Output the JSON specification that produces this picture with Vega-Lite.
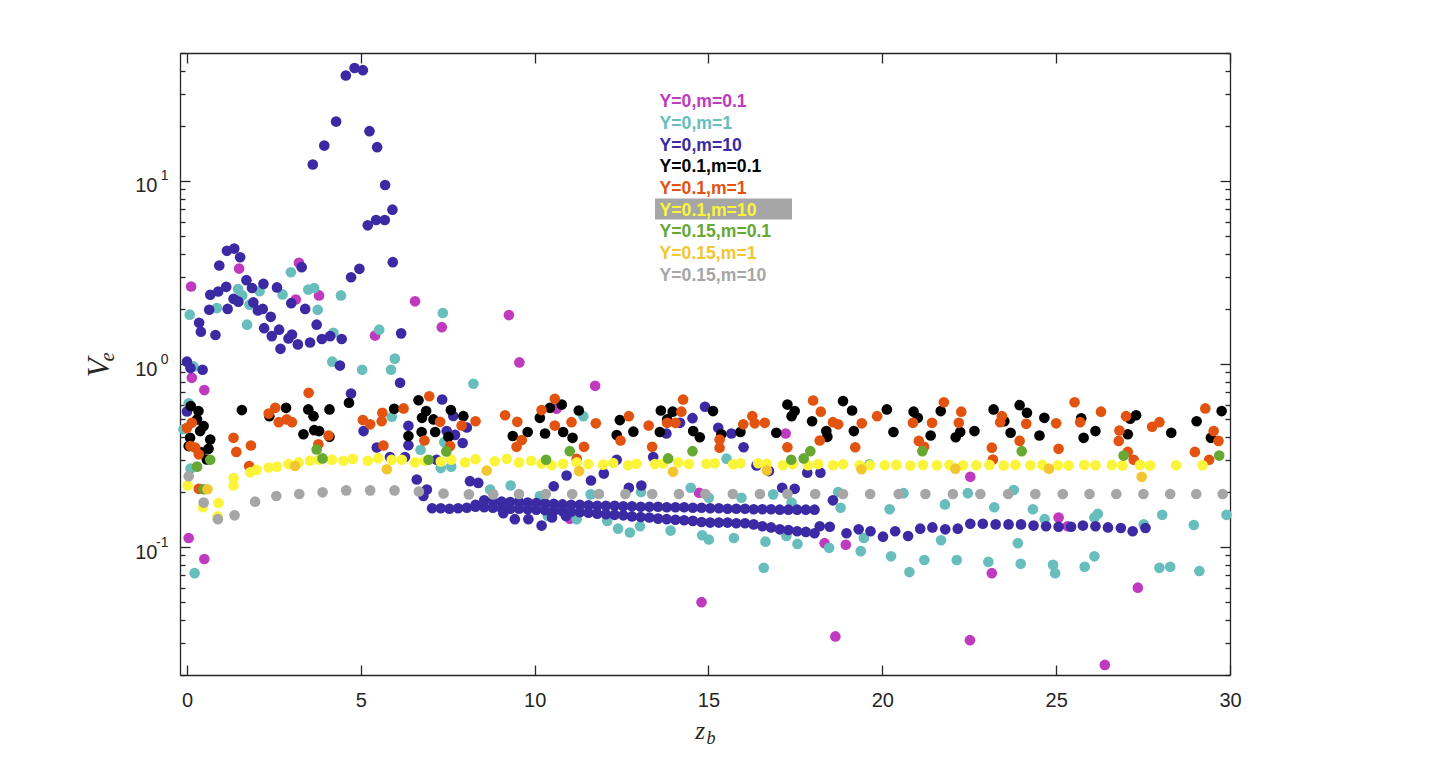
{
"$schema": "https://vega.github.io/schema/vega-lite/v6.json",
"width": 1050,
"height": 622,
"autosize": {"type": "none"},
"padding": {"left": 180, "top": 53, "right": 210, "bottom": 94},
"background": "white",
"config": {"view": {"stroke": null}, "font": "Liberation Sans", "axis": {"grid": false, "domainColor": "#262626", "domainWidth": 1.3, "tickColor": "#262626", "tickWidth": 1.3, "labelColor": "#262626", "labelFont": "Liberation Sans", "titleColor": "#262626", "titleFont": "Liberation Serif", "titleFontStyle": "italic", "titleFontWeight": "normal"}},
"data": {"values": [
{"s":"Y=0,m=0.1","x":0.12,"y":2.65},{"s":"Y=0,m=0.1","x":3.22,"y":3.57},{"s":"Y=0,m=0.1","x":1.5,"y":3.32},{"s":"Y=0,m=0.1","x":3.13,"y":2.25},{"s":"Y=0,m=0.1","x":3.8,"y":2.37},{"s":"Y=0,m=0.1","x":5.41,"y":1.43},{"s":"Y=0,m=0.1","x":6.56,"y":2.2},{"s":"Y=0,m=0.1","x":7.33,"y":1.59},{"s":"Y=0,m=0.1","x":0.14,"y":0.84},{"s":"Y=0,m=0.1","x":0.5,"y":0.72},{"s":"Y=0,m=0.1","x":0.05,"y":0.112},{"s":"Y=0,m=0.1","x":0.5,"y":0.086},{"s":"Y=0,m=0.1","x":9.26,"y":1.85},{"s":"Y=0,m=0.1","x":9.56,"y":1.02},{"s":"Y=0,m=0.1","x":11.74,"y":0.76},{"s":"Y=0,m=0.1","x":14.73,"y":0.198},{"s":"Y=0,m=0.1","x":11.01,"y":0.143},{"s":"Y=0,m=0.1","x":17.22,"y":0.417},{"s":"Y=0,m=0.1","x":14.8,"y":0.05},{"s":"Y=0,m=0.1","x":18.34,"y":0.105},{"s":"Y=0,m=0.1","x":18.95,"y":0.103},{"s":"Y=0,m=0.1","x":18.65,"y":0.0325},{"s":"Y=0,m=0.1","x":10.63,"y":0.57},{"s":"Y=0,m=0.1","x":22.53,"y":0.242},{"s":"Y=0,m=0.1","x":25.07,"y":0.145},{"s":"Y=0,m=0.1","x":25.33,"y":0.13},{"s":"Y=0,m=0.1","x":23.15,"y":0.072},{"s":"Y=0,m=0.1","x":27.35,"y":0.06},{"s":"Y=0,m=0.1","x":22.52,"y":0.031},{"s":"Y=0,m=0.1","x":26.4,"y":0.0227},
{"s":"Y=0,m=1","x":0.08,"y":1.86},{"s":"Y=0,m=1","x":0.86,"y":2.02},{"s":"Y=0,m=1","x":1.47,"y":2.57},{"s":"Y=0,m=1","x":1.59,"y":2.37},{"s":"Y=0,m=1","x":1.8,"y":2.11},{"s":"Y=0,m=1","x":2.09,"y":2.5},{"s":"Y=0,m=1","x":1.73,"y":1.64},{"s":"Y=0,m=1","x":2.99,"y":3.17},{"s":"Y=0,m=1","x":2.75,"y":2.4},{"s":"Y=0,m=1","x":3.49,"y":2.55},{"s":"Y=0,m=1","x":3.66,"y":2.6},{"s":"Y=0,m=1","x":3.76,"y":1.98},{"s":"Y=0,m=1","x":4.43,"y":2.37},{"s":"Y=0,m=1","x":4.21,"y":1.48},{"s":"Y=0,m=1","x":4.18,"y":1.03},{"s":"Y=0,m=1","x":5.04,"y":0.93},{"s":"Y=0,m=1","x":5.53,"y":1.54},{"s":"Y=0,m=1","x":5.87,"y":0.93},{"s":"Y=0,m=1","x":5.98,"y":1.07},{"s":"Y=0,m=1","x":7.36,"y":1.9},{"s":"Y=0,m=1","x":0.19,"y":0.97},{"s":"Y=0,m=1","x":0.05,"y":0.61},{"s":"Y=0,m=1","x":-0.1,"y":0.44},{"s":"Y=0,m=1","x":0.1,"y":0.268},{"s":"Y=0,m=1","x":0.22,"y":0.072},{"s":"Y=0,m=1","x":5.89,"y":0.515},{"s":"Y=0,m=1","x":6.72,"y":0.34},{"s":"Y=0,m=1","x":7.3,"y":0.27},{"s":"Y=0,m=1","x":7.6,"y":0.275},{"s":"Y=0,m=1","x":7.4,"y":0.374},{"s":"Y=0,m=1","x":8.24,"y":0.78},{"s":"Y=0,m=1","x":8.72,"y":0.206},{"s":"Y=0,m=1","x":9.31,"y":0.217},{"s":"Y=0,m=1","x":10.15,"y":0.19},{"s":"Y=0,m=1","x":10.38,"y":0.148},{"s":"Y=0,m=1","x":11.4,"y":0.519},{"s":"Y=0,m=1","x":15.52,"y":0.304},{"s":"Y=0,m=1","x":19.63,"y":0.283},{"s":"Y=0,m=1","x":10.49,"y":0.146},{"s":"Y=0,m=1","x":11.21,"y":0.142},{"s":"Y=0,m=1","x":11.61,"y":0.194},{"s":"Y=0,m=1","x":12.09,"y":0.139},{"s":"Y=0,m=1","x":12.4,"y":0.126},{"s":"Y=0,m=1","x":12.74,"y":0.12},{"s":"Y=0,m=1","x":13.03,"y":0.13},{"s":"Y=0,m=1","x":13.06,"y":0.2},{"s":"Y=0,m=1","x":13.91,"y":0.123},{"s":"Y=0,m=1","x":14.49,"y":0.211},{"s":"Y=0,m=1","x":15.01,"y":0.186},{"s":"Y=0,m=1","x":14.82,"y":0.116},{"s":"Y=0,m=1","x":15.01,"y":0.11},{"s":"Y=0,m=1","x":15.73,"y":0.112},{"s":"Y=0,m=1","x":15.95,"y":0.186},{"s":"Y=0,m=1","x":16.64,"y":0.107},{"s":"Y=0,m=1","x":16.59,"y":0.077},{"s":"Y=0,m=1","x":16.86,"y":0.194},{"s":"Y=0,m=1","x":17.39,"y":0.175},{"s":"Y=0,m=1","x":17.24,"y":0.115},{"s":"Y=0,m=1","x":17.56,"y":0.104},{"s":"Y=0,m=1","x":18.47,"y":0.099},{"s":"Y=0,m=1","x":18.73,"y":0.2},{"s":"Y=0,m=1","x":18.8,"y":0.164},{"s":"Y=0,m=1","x":19.38,"y":0.095},{"s":"Y=0,m=1","x":19.47,"y":0.112},{"s":"Y=0,m=1","x":20.21,"y":0.161},{"s":"Y=0,m=1","x":20.25,"y":0.089},{"s":"Y=0,m=1","x":20.61,"y":0.197},{"s":"Y=0,m=1","x":20.78,"y":0.073},{"s":"Y=0,m=1","x":21.21,"y":0.085},{"s":"Y=0,m=1","x":21.69,"y":0.109},{"s":"Y=0,m=1","x":21.8,"y":0.171},{"s":"Y=0,m=1","x":22.14,"y":0.085},{"s":"Y=0,m=1","x":22.46,"y":0.197},{"s":"Y=0,m=1","x":23.05,"y":0.083},{"s":"Y=0,m=1","x":23.22,"y":0.165},{"s":"Y=0,m=1","x":23.78,"y":0.205},{"s":"Y=0,m=1","x":23.9,"y":0.105},{"s":"Y=0,m=1","x":23.98,"y":0.081},{"s":"Y=0,m=1","x":24.33,"y":0.161},{"s":"Y=0,m=1","x":24.67,"y":0.142},{"s":"Y=0,m=1","x":24.91,"y":0.08},{"s":"Y=0,m=1","x":24.97,"y":0.072},{"s":"Y=0,m=1","x":25.82,"y":0.078},{"s":"Y=0,m=1","x":26.1,"y":0.089},{"s":"Y=0,m=1","x":26.1,"y":0.145},{"s":"Y=0,m=1","x":26.2,"y":0.152},{"s":"Y=0,m=1","x":27.52,"y":0.133},{"s":"Y=0,m=1","x":27.97,"y":0.077},{"s":"Y=0,m=1","x":28.28,"y":0.078},{"s":"Y=0,m=1","x":28.05,"y":0.15},{"s":"Y=0,m=1","x":28.96,"y":0.132},{"s":"Y=0,m=1","x":29.12,"y":0.074},{"s":"Y=0,m=1","x":29.9,"y":0.15},
{"s":"Y=0,m=10","x":4.57,"y":37.7},{"s":"Y=0,m=10","x":4.82,"y":41.4},{"s":"Y=0,m=10","x":5.06,"y":40.3},{"s":"Y=0,m=10","x":4.29,"y":21.1},{"s":"Y=0,m=10","x":3.95,"y":15.6},{"s":"Y=0,m=10","x":3.62,"y":12.3},{"s":"Y=0,m=10","x":5.25,"y":18.7},{"s":"Y=0,m=10","x":5.47,"y":15.3},{"s":"Y=0,m=10","x":5.7,"y":9.5},{"s":"Y=0,m=10","x":5.91,"y":6.97},{"s":"Y=0,m=10","x":5.69,"y":6.12},{"s":"Y=0,m=10","x":5.44,"y":6.12},{"s":"Y=0,m=10","x":5.2,"y":5.72},{"s":"Y=0,m=10","x":5.92,"y":3.6},{"s":"Y=0,m=10","x":4.96,"y":3.31},{"s":"Y=0,m=10","x":4.72,"y":2.98},{"s":"Y=0,m=10","x":3.3,"y":3.38},{"s":"Y=0,m=10","x":1.36,"y":4.27},{"s":"Y=0,m=10","x":1.15,"y":4.15},{"s":"Y=0,m=10","x":1.53,"y":3.83},{"s":"Y=0,m=10","x":0.93,"y":3.45},{"s":"Y=0,m=10","x":1.71,"y":2.87},{"s":"Y=0,m=10","x":1.87,"y":2.6},{"s":"Y=0,m=10","x":2.2,"y":2.74},{"s":"Y=0,m=10","x":2.59,"y":2.62},{"s":"Y=0,m=10","x":1.13,"y":2.64},{"s":"Y=0,m=10","x":0.9,"y":2.49},{"s":"Y=0,m=10","x":0.67,"y":2.39},{"s":"Y=0,m=10","x":1.34,"y":2.27},{"s":"Y=0,m=10","x":1.48,"y":2.19},{"s":"Y=0,m=10","x":1.91,"y":2.17},{"s":"Y=0,m=10","x":3.0,"y":2.15},{"s":"Y=0,m=10","x":0.64,"y":1.98},{"s":"Y=0,m=10","x":1.17,"y":2.0},{"s":"Y=0,m=10","x":2.04,"y":1.96},{"s":"Y=0,m=10","x":2.18,"y":2.0},{"s":"Y=0,m=10","x":3.4,"y":2.0},{"s":"Y=0,m=10","x":2.41,"y":1.81},{"s":"Y=0,m=10","x":3.73,"y":1.64},{"s":"Y=0,m=10","x":0.35,"y":1.68},{"s":"Y=0,m=10","x":0.4,"y":1.5},{"s":"Y=0,m=10","x":0.82,"y":1.44},{"s":"Y=0,m=10","x":2.22,"y":1.57},{"s":"Y=0,m=10","x":2.65,"y":1.54},{"s":"Y=0,m=10","x":2.44,"y":1.42},{"s":"Y=0,m=10","x":2.92,"y":1.38},{"s":"Y=0,m=10","x":3.02,"y":1.45},{"s":"Y=0,m=10","x":3.19,"y":1.28},{"s":"Y=0,m=10","x":2.69,"y":1.21},{"s":"Y=0,m=10","x":3.54,"y":1.31},{"s":"Y=0,m=10","x":3.88,"y":1.37},{"s":"Y=0,m=10","x":4.12,"y":1.42},{"s":"Y=0,m=10","x":4.45,"y":1.37},{"s":"Y=0,m=10","x":6.16,"y":1.47},{"s":"Y=0,m=10","x":0.0,"y":1.03},{"s":"Y=0,m=10","x":0.45,"y":0.93},{"s":"Y=0,m=10","x":4.4,"y":0.98},{"s":"Y=0,m=10","x":4.72,"y":0.69},{"s":"Y=0,m=10","x":6.13,"y":0.79},{"s":"Y=0,m=10","x":5.08,"y":0.43},{"s":"Y=0,m=10","x":6.37,"y":0.46},{"s":"Y=0,m=10","x":6.37,"y":0.36},{"s":"Y=0,m=10","x":5.46,"y":0.35},{"s":"Y=0,m=10","x":5.84,"y":0.31},{"s":"Y=0,m=10","x":6.27,"y":0.31},{"s":"Y=0,m=10","x":7.18,"y":0.3},{"s":"Y=0,m=10","x":7.34,"y":0.64},{"s":"Y=0,m=10","x":7.66,"y":0.52},{"s":"Y=0,m=10","x":7.71,"y":0.41},{"s":"Y=0,m=10","x":7.93,"y":0.37},{"s":"Y=0,m=10","x":8.05,"y":0.45},{"s":"Y=0,m=10","x":7.47,"y":0.43},{"s":"Y=0,m=10","x":6.61,"y":0.234},{"s":"Y=0,m=10","x":6.9,"y":0.206},{"s":"Y=0,m=10","x":6.8,"y":0.19},{"s":"Y=0,m=10","x":0.0,"y":0.55},{"s":"Y=0,m=10","x":0.1,"y":0.95},
{"s":"Y=0,m=10","x":8.14,"y":0.229},{"s":"Y=0,m=10","x":8.38,"y":0.224},{"s":"Y=0,m=10","x":9.1,"y":0.153},{"s":"Y=0,m=10","x":9.43,"y":0.142},{"s":"Y=0,m=10","x":9.82,"y":0.142},{"s":"Y=0,m=10","x":10.2,"y":0.131},{"s":"Y=0,m=10","x":10.5,"y":0.145},{"s":"Y=0,m=10","x":10.9,"y":0.148},{"s":"Y=0,m=10","x":10.92,"y":0.246},{"s":"Y=0,m=10","x":11.62,"y":0.231},{"s":"Y=0,m=10","x":11.99,"y":0.252},{"s":"Y=0,m=10","x":10.55,"y":0.215},{"s":"Y=0,m=10","x":12.36,"y":0.3},{"s":"Y=0,m=10","x":12.71,"y":0.211},{"s":"Y=0,m=10","x":13.07,"y":0.217},{"s":"Y=0,m=10","x":13.41,"y":0.31},{"s":"Y=0,m=10","x":13.79,"y":0.417},{"s":"Y=0,m=10","x":14.18,"y":0.477},{"s":"Y=0,m=10","x":14.54,"y":0.506},{"s":"Y=0,m=10","x":14.9,"y":0.584},{"s":"Y=0,m=10","x":15.28,"y":0.448},{"s":"Y=0,m=10","x":15.66,"y":0.417},{"s":"Y=0,m=10","x":16.01,"y":0.351},{"s":"Y=0,m=10","x":16.38,"y":0.279},{"s":"Y=0,m=10","x":16.74,"y":0.26},{"s":"Y=0,m=10","x":17.12,"y":0.211},{"s":"Y=0,m=10","x":17.48,"y":0.208},{"s":"Y=0,m=10","x":17.84,"y":0.255},{"s":"Y=0,m=10","x":18.22,"y":0.255},{"s":"Y=0,m=10","x":18.58,"y":0.18},
{"s":"Y=0,m=10","x":7.05,"y":0.163},{"s":"Y=0,m=10","x":7.3,"y":0.163},{"s":"Y=0,m=10","x":7.55,"y":0.162},{"s":"Y=0,m=10","x":7.8,"y":0.163},{"s":"Y=0,m=10","x":8.05,"y":0.164},{"s":"Y=0,m=10","x":8.3,"y":0.17},{"s":"Y=0,m=10","x":8.55,"y":0.18},{"s":"Y=0,m=10","x":8.8,"y":0.178},{"s":"Y=0,m=10","x":9.05,"y":0.177},{"s":"Y=0,m=10","x":9.3,"y":0.176},{"s":"Y=0,m=10","x":9.55,"y":0.176},{"s":"Y=0,m=10","x":9.8,"y":0.175},{"s":"Y=0,m=10","x":10.05,"y":0.174},{"s":"Y=0,m=10","x":10.3,"y":0.173},{"s":"Y=0,m=10","x":10.55,"y":0.172},{"s":"Y=0,m=10","x":10.8,"y":0.171},{"s":"Y=0,m=10","x":11.05,"y":0.17},{"s":"Y=0,m=10","x":11.3,"y":0.17},{"s":"Y=0,m=10","x":11.55,"y":0.169},{"s":"Y=0,m=10","x":11.8,"y":0.168},{"s":"Y=0,m=10","x":12.05,"y":0.168},{"s":"Y=0,m=10","x":12.3,"y":0.168},{"s":"Y=0,m=10","x":12.55,"y":0.167},{"s":"Y=0,m=10","x":12.8,"y":0.167},{"s":"Y=0,m=10","x":13.05,"y":0.166},{"s":"Y=0,m=10","x":13.3,"y":0.166},{"s":"Y=0,m=10","x":13.55,"y":0.166},{"s":"Y=0,m=10","x":13.8,"y":0.165},{"s":"Y=0,m=10","x":14.05,"y":0.165},{"s":"Y=0,m=10","x":14.3,"y":0.165},{"s":"Y=0,m=10","x":14.55,"y":0.164},{"s":"Y=0,m=10","x":14.8,"y":0.164},{"s":"Y=0,m=10","x":15.05,"y":0.163},{"s":"Y=0,m=10","x":15.3,"y":0.163},{"s":"Y=0,m=10","x":15.55,"y":0.162},{"s":"Y=0,m=10","x":15.8,"y":0.162},{"s":"Y=0,m=10","x":16.05,"y":0.162},{"s":"Y=0,m=10","x":16.3,"y":0.161},{"s":"Y=0,m=10","x":16.55,"y":0.161},{"s":"Y=0,m=10","x":16.8,"y":0.161},{"s":"Y=0,m=10","x":17.05,"y":0.16},{"s":"Y=0,m=10","x":17.3,"y":0.16},{"s":"Y=0,m=10","x":17.55,"y":0.16},{"s":"Y=0,m=10","x":17.8,"y":0.16},{"s":"Y=0,m=10","x":18.05,"y":0.16},
{"s":"Y=0,m=10","x":8.3,"y":0.166},{"s":"Y=0,m=10","x":8.55,"y":0.165},{"s":"Y=0,m=10","x":8.8,"y":0.164},{"s":"Y=0,m=10","x":9.05,"y":0.163},{"s":"Y=0,m=10","x":9.3,"y":0.162},{"s":"Y=0,m=10","x":9.55,"y":0.162},{"s":"Y=0,m=10","x":9.8,"y":0.161},{"s":"Y=0,m=10","x":10.05,"y":0.16},{"s":"Y=0,m=10","x":10.3,"y":0.159},{"s":"Y=0,m=10","x":10.55,"y":0.158},{"s":"Y=0,m=10","x":10.8,"y":0.157},{"s":"Y=0,m=10","x":11.05,"y":0.156},{"s":"Y=0,m=10","x":11.3,"y":0.155},{"s":"Y=0,m=10","x":11.55,"y":0.154},{"s":"Y=0,m=10","x":11.8,"y":0.152},{"s":"Y=0,m=10","x":12.05,"y":0.151},{"s":"Y=0,m=10","x":12.3,"y":0.15},{"s":"Y=0,m=10","x":12.55,"y":0.149},{"s":"Y=0,m=10","x":12.8,"y":0.147},{"s":"Y=0,m=10","x":13.05,"y":0.146},{"s":"Y=0,m=10","x":13.3,"y":0.145},{"s":"Y=0,m=10","x":13.55,"y":0.143},{"s":"Y=0,m=10","x":13.8,"y":0.142},{"s":"Y=0,m=10","x":14.05,"y":0.141},{"s":"Y=0,m=10","x":14.3,"y":0.14},{"s":"Y=0,m=10","x":14.55,"y":0.139},{"s":"Y=0,m=10","x":14.8,"y":0.137},{"s":"Y=0,m=10","x":15.05,"y":0.136},{"s":"Y=0,m=10","x":15.3,"y":0.136},{"s":"Y=0,m=10","x":15.55,"y":0.136},{"s":"Y=0,m=10","x":15.8,"y":0.135},{"s":"Y=0,m=10","x":16.05,"y":0.135},{"s":"Y=0,m=10","x":16.3,"y":0.133},{"s":"Y=0,m=10","x":16.55,"y":0.13},{"s":"Y=0,m=10","x":16.8,"y":0.128},{"s":"Y=0,m=10","x":17.05,"y":0.125},{"s":"Y=0,m=10","x":17.3,"y":0.124},{"s":"Y=0,m=10","x":17.55,"y":0.122},{"s":"Y=0,m=10","x":17.8,"y":0.121},{"s":"Y=0,m=10","x":18.05,"y":0.119},
{"s":"Y=0,m=10","x":18.2,"y":0.13},{"s":"Y=0,m=10","x":18.49,"y":0.129},{"s":"Y=0,m=10","x":18.97,"y":0.119},{"s":"Y=0,m=10","x":19.32,"y":0.125},{"s":"Y=0,m=10","x":19.66,"y":0.122},{"s":"Y=0,m=10","x":20.02,"y":0.114},{"s":"Y=0,m=10","x":20.37,"y":0.122},{"s":"Y=0,m=10","x":20.74,"y":0.115},{"s":"Y=0,m=10","x":21.09,"y":0.126},{"s":"Y=0,m=10","x":21.44,"y":0.128},{"s":"Y=0,m=10","x":21.81,"y":0.125},{"s":"Y=0,m=10","x":22.17,"y":0.126},{"s":"Y=0,m=10","x":22.53,"y":0.134},{"s":"Y=0,m=10","x":22.89,"y":0.134},{"s":"Y=0,m=10","x":23.26,"y":0.133},{"s":"Y=0,m=10","x":23.63,"y":0.133},{"s":"Y=0,m=10","x":23.99,"y":0.133},{"s":"Y=0,m=10","x":24.35,"y":0.131},{"s":"Y=0,m=10","x":24.71,"y":0.13},{"s":"Y=0,m=10","x":25.07,"y":0.129},{"s":"Y=0,m=10","x":25.43,"y":0.129},{"s":"Y=0,m=10","x":25.77,"y":0.131},{"s":"Y=0,m=10","x":26.13,"y":0.13},{"s":"Y=0,m=10","x":26.49,"y":0.128},{"s":"Y=0,m=10","x":26.86,"y":0.127},{"s":"Y=0,m=10","x":27.2,"y":0.122},{"s":"Y=0,m=10","x":27.57,"y":0.127},
{"s":"Y=0.1,m=0.1","x":0.11,"y":0.59},{"s":"Y=0.1,m=0.1","x":0.33,"y":0.553},{"s":"Y=0.1,m=0.1","x":0.29,"y":0.498},{"s":"Y=0.1,m=0.1","x":0.48,"y":0.458},{"s":"Y=0.1,m=0.1","x":0.38,"y":0.43},{"s":"Y=0.1,m=0.1","x":0.67,"y":0.387},{"s":"Y=0.1,m=0.1","x":0.09,"y":0.395},{"s":"Y=0.1,m=0.1","x":0.62,"y":0.344},{"s":"Y=0.1,m=0.1","x":0.57,"y":0.301},{"s":"Y=0.1,m=0.1","x":0.05,"y":0.356},{"s":"Y=0.1,m=0.1","x":0.4,"y":0.33},{"s":"Y=0.1,m=0.1","x":1.58,"y":0.56},{"s":"Y=0.1,m=0.1","x":2.37,"y":0.519},{"s":"Y=0.1,m=0.1","x":2.85,"y":0.576},{"s":"Y=0.1,m=0.1","x":3.49,"y":0.565},{"s":"Y=0.1,m=0.1","x":3.64,"y":0.519},{"s":"Y=0.1,m=0.1","x":4.1,"y":0.565},{"s":"Y=0.1,m=0.1","x":3.35,"y":0.413},{"s":"Y=0.1,m=0.1","x":3.66,"y":0.435},{"s":"Y=0.1,m=0.1","x":3.8,"y":0.43},{"s":"Y=0.1,m=0.1","x":4.1,"y":0.4},{"s":"Y=0.1,m=0.1","x":4.66,"y":0.614},{"s":"Y=0.1,m=0.1","x":5.96,"y":0.569},{"s":"Y=0.1,m=0.1","x":6.66,"y":0.634},{"s":"Y=0.1,m=0.1","x":6.88,"y":0.553},{"s":"Y=0.1,m=0.1","x":6.76,"y":0.508},{"s":"Y=0.1,m=0.1","x":7.09,"y":0.498},{"s":"Y=0.1,m=0.1","x":6.37,"y":0.404},{"s":"Y=0.1,m=0.1","x":6.75,"y":0.425},{"s":"Y=0.1,m=0.1","x":7.14,"y":0.425},{"s":"Y=0.1,m=0.1","x":7.52,"y":0.4},{"s":"Y=0.1,m=0.1","x":7.59,"y":0.56},{"s":"Y=0.1,m=0.1","x":7.95,"y":0.519},{"s":"Y=0.1,m=0.1","x":9.37,"y":0.404},{"s":"Y=0.1,m=0.1","x":9.8,"y":0.425},{"s":"Y=0.1,m=0.1","x":10.15,"y":0.508},{"s":"Y=0.1,m=0.1","x":10.3,"y":0.417},{"s":"Y=0.1,m=0.1","x":10.44,"y":0.576},{"s":"Y=0.1,m=0.1","x":10.78,"y":0.6},{"s":"Y=0.1,m=0.1","x":10.82,"y":0.425},{"s":"Y=0.1,m=0.1","x":11.09,"y":0.395},{"s":"Y=0.1,m=0.1","x":11.27,"y":0.557},{"s":"Y=0.1,m=0.1","x":12.45,"y":0.494},{"s":"Y=0.1,m=0.1","x":12.36,"y":0.409},{"s":"Y=0.1,m=0.1","x":12.84,"y":0.427},{"s":"Y=0.1,m=0.1","x":13.63,"y":0.557},{"s":"Y=0.1,m=0.1","x":13.97,"y":0.549},{"s":"Y=0.1,m=0.1","x":13.81,"y":0.498},{"s":"Y=0.1,m=0.1","x":13.6,"y":0.425},{"s":"Y=0.1,m=0.1","x":14.56,"y":0.43},{"s":"Y=0.1,m=0.1","x":14.75,"y":0.398},{"s":"Y=0.1,m=0.1","x":15.13,"y":0.553},{"s":"Y=0.1,m=0.1","x":15.37,"y":0.413},{"s":"Y=0.1,m=0.1","x":15.92,"y":0.425},{"s":"Y=0.1,m=0.1","x":16.95,"y":0.421},{"s":"Y=0.1,m=0.1","x":17.27,"y":0.6},{"s":"Y=0.1,m=0.1","x":17.48,"y":0.553},{"s":"Y=0.1,m=0.1","x":17.39,"y":0.519},{"s":"Y=0.1,m=0.1","x":17.98,"y":0.487},{"s":"Y=0.1,m=0.1","x":18.39,"y":0.43},{"s":"Y=0.1,m=0.1","x":18.42,"y":0.4},{"s":"Y=0.1,m=0.1","x":18.87,"y":0.627},{"s":"Y=0.1,m=0.1","x":19.13,"y":0.557},{"s":"Y=0.1,m=0.1","x":19.18,"y":0.43},{"s":"Y=0.1,m=0.1","x":20.13,"y":0.565},{"s":"Y=0.1,m=0.1","x":20.32,"y":0.425},{"s":"Y=0.1,m=0.1","x":20.9,"y":0.549},{"s":"Y=0.1,m=0.1","x":21.02,"y":0.508},{"s":"Y=0.1,m=0.1","x":21.39,"y":0.407},{"s":"Y=0.1,m=0.1","x":21.68,"y":0.553},{"s":"Y=0.1,m=0.1","x":22.11,"y":0.398},{"s":"Y=0.1,m=0.1","x":22.24,"y":0.425},{"s":"Y=0.1,m=0.1","x":22.65,"y":0.43},{"s":"Y=0.1,m=0.1","x":23.2,"y":0.565},{"s":"Y=0.1,m=0.1","x":23.51,"y":0.487},{"s":"Y=0.1,m=0.1","x":23.69,"y":0.421},{"s":"Y=0.1,m=0.1","x":23.95,"y":0.596},{"s":"Y=0.1,m=0.1","x":24.16,"y":0.541},{"s":"Y=0.1,m=0.1","x":24.52,"y":0.407},{"s":"Y=0.1,m=0.1","x":24.66,"y":0.508},{"s":"Y=0.1,m=0.1","x":25.72,"y":0.505},{"s":"Y=0.1,m=0.1","x":25.79,"y":0.395},{"s":"Y=0.1,m=0.1","x":26.13,"y":0.43},{"s":"Y=0.1,m=0.1","x":27.06,"y":0.413},{"s":"Y=0.1,m=0.1","x":27.13,"y":0.502},{"s":"Y=0.1,m=0.1","x":27.3,"y":0.525},{"s":"Y=0.1,m=0.1","x":28.31,"y":0.421},{"s":"Y=0.1,m=0.1","x":29.04,"y":0.487},{"s":"Y=0.1,m=0.1","x":29.45,"y":0.395},{"s":"Y=0.1,m=0.1","x":29.76,"y":0.553},
{"s":"Y=0.1,m=1","x":0.0,"y":0.448},{"s":"Y=0.1,m=1","x":0.14,"y":0.477},{"s":"Y=0.1,m=1","x":0.1,"y":0.356},{"s":"Y=0.1,m=1","x":0.24,"y":0.349},{"s":"Y=0.1,m=1","x":0.34,"y":0.321},{"s":"Y=0.1,m=1","x":0.34,"y":0.208},{"s":"Y=0.1,m=1","x":1.34,"y":0.395},{"s":"Y=0.1,m=1","x":1.42,"y":0.331},{"s":"Y=0.1,m=1","x":1.84,"y":0.359},{"s":"Y=0.1,m=1","x":1.79,"y":0.277},{"s":"Y=0.1,m=1","x":2.35,"y":0.536},{"s":"Y=0.1,m=1","x":2.54,"y":0.576},{"s":"Y=0.1,m=1","x":2.64,"y":0.481},{"s":"Y=0.1,m=1","x":2.87,"y":0.498},{"s":"Y=0.1,m=1","x":3.02,"y":0.481},{"s":"Y=0.1,m=1","x":3.5,"y":0.696},{"s":"Y=0.1,m=1","x":3.78,"y":0.364},{"s":"Y=0.1,m=1","x":4.07,"y":0.407},{"s":"Y=0.1,m=1","x":5.06,"y":0.494},{"s":"Y=0.1,m=1","x":5.27,"y":0.468},{"s":"Y=0.1,m=1","x":5.6,"y":0.487},{"s":"Y=0.1,m=1","x":5.62,"y":0.541},{"s":"Y=0.1,m=1","x":5.65,"y":0.359},{"s":"Y=0.1,m=1","x":6.23,"y":0.572},{"s":"Y=0.1,m=1","x":6.97,"y":0.667},{"s":"Y=0.1,m=1","x":7.28,"y":0.483},{"s":"Y=0.1,m=1","x":6.83,"y":0.382},{"s":"Y=0.1,m=1","x":7.57,"y":0.356},{"s":"Y=0.1,m=1","x":7.9,"y":0.461},{"s":"Y=0.1,m=1","x":8.3,"y":0.487},{"s":"Y=0.1,m=1","x":9.15,"y":0.525},{"s":"Y=0.1,m=1","x":9.5,"y":0.483},{"s":"Y=0.1,m=1","x":9.63,"y":0.384},{"s":"Y=0.1,m=1","x":9.48,"y":0.353},{"s":"Y=0.1,m=1","x":10.2,"y":0.56},{"s":"Y=0.1,m=1","x":10.58,"y":0.646},{"s":"Y=0.1,m=1","x":10.58,"y":0.461},{"s":"Y=0.1,m=1","x":11.06,"y":0.481},{"s":"Y=0.1,m=1","x":11.76,"y":0.474},{"s":"Y=0.1,m=1","x":11.42,"y":0.353},{"s":"Y=0.1,m=1","x":11.21,"y":0.303},{"s":"Y=0.1,m=1","x":12.71,"y":0.519},{"s":"Y=0.1,m=1","x":12.47,"y":0.382},{"s":"Y=0.1,m=1","x":13.28,"y":0.461},{"s":"Y=0.1,m=1","x":13.38,"y":0.353},{"s":"Y=0.1,m=1","x":13.81,"y":0.477},{"s":"Y=0.1,m=1","x":14.05,"y":0.477},{"s":"Y=0.1,m=1","x":14.22,"y":0.549},{"s":"Y=0.1,m=1","x":14.27,"y":0.64},{"s":"Y=0.1,m=1","x":15.32,"y":0.387},{"s":"Y=0.1,m=1","x":15.32,"y":0.349},{"s":"Y=0.1,m=1","x":16.0,"y":0.468},{"s":"Y=0.1,m=1","x":16.26,"y":0.519},{"s":"Y=0.1,m=1","x":16.33,"y":0.474},{"s":"Y=0.1,m=1","x":16.62,"y":0.477},{"s":"Y=0.1,m=1","x":17.27,"y":0.351},{"s":"Y=0.1,m=1","x":18.01,"y":0.632},{"s":"Y=0.1,m=1","x":18.23,"y":0.549},{"s":"Y=0.1,m=1","x":18.2,"y":0.382},{"s":"Y=0.1,m=1","x":18.58,"y":0.481},{"s":"Y=0.1,m=1","x":18.73,"y":0.468},{"s":"Y=0.1,m=1","x":19.41,"y":0.474},{"s":"Y=0.1,m=1","x":19.22,"y":0.351},{"s":"Y=0.1,m=1","x":19.85,"y":0.519},{"s":"Y=0.1,m=1","x":20.88,"y":0.477},{"s":"Y=0.1,m=1","x":21.05,"y":0.38},{"s":"Y=0.1,m=1","x":21.2,"y":0.353},{"s":"Y=0.1,m=1","x":21.77,"y":0.618},{"s":"Y=0.1,m=1","x":21.43,"y":0.477},{"s":"Y=0.1,m=1","x":22.27,"y":0.549},{"s":"Y=0.1,m=1","x":22.2,"y":0.477},{"s":"Y=0.1,m=1","x":23.15,"y":0.349},{"s":"Y=0.1,m=1","x":23.18,"y":0.301},{"s":"Y=0.1,m=1","x":23.44,"y":0.519},{"s":"Y=0.1,m=1","x":23.39,"y":0.481},{"s":"Y=0.1,m=1","x":23.95,"y":0.38},{"s":"Y=0.1,m=1","x":24.14,"y":0.471},{"s":"Y=0.1,m=1","x":25.0,"y":0.474},{"s":"Y=0.1,m=1","x":25.07,"y":0.344},{"s":"Y=0.1,m=1","x":25.53,"y":0.618},{"s":"Y=0.1,m=1","x":25.69,"y":0.481},{"s":"Y=0.1,m=1","x":26.29,"y":0.549},{"s":"Y=0.1,m=1","x":26.82,"y":0.433},{"s":"Y=0.1,m=1","x":26.8,"y":0.38},{"s":"Y=0.1,m=1","x":27.01,"y":0.519},{"s":"Y=0.1,m=1","x":27.06,"y":0.331},{"s":"Y=0.1,m=1","x":27.23,"y":0.3},{"s":"Y=0.1,m=1","x":27.76,"y":0.454},{"s":"Y=0.1,m=1","x":27.97,"y":0.481},{"s":"Y=0.1,m=1","x":28.99,"y":0.331},{"s":"Y=0.1,m=1","x":29.29,"y":0.572},{"s":"Y=0.1,m=1","x":29.53,"y":0.43},{"s":"Y=0.1,m=1","x":29.67,"y":0.38},{"s":"Y=0.1,m=1","x":29.4,"y":0.3},
{"s":"Y=0.1,m=10","x":0.02,"y":0.217},{"s":"Y=0.1,m=10","x":0.46,"y":0.165},{"s":"Y=0.1,m=10","x":0.91,"y":0.174},{"s":"Y=0.1,m=10","x":0.88,"y":0.147},{"s":"Y=0.1,m=10","x":1.34,"y":0.238},{"s":"Y=0.1,m=10","x":1.34,"y":0.217},{"s":"Y=0.1,m=10","x":1.82,"y":0.256},{"s":"Y=0.1,m=10","x":2.0,"y":0.264},{"s":"Y=0.1,m=10","x":2.35,"y":0.272},{"s":"Y=0.1,m=10","x":2.59,"y":0.275},{"s":"Y=0.1,m=10","x":2.92,"y":0.284},{"s":"Y=0.1,m=10","x":3.21,"y":0.29},{"s":"Y=0.1,m=10","x":3.54,"y":0.296},{"s":"Y=0.1,m=10","x":3.8,"y":0.3},{"s":"Y=0.1,m=10","x":4.17,"y":0.3},{"s":"Y=0.1,m=10","x":4.5,"y":0.296},{"s":"Y=0.1,m=10","x":4.77,"y":0.303},{"s":"Y=0.1,m=10","x":5.2,"y":0.296},{"s":"Y=0.1,m=10","x":5.5,"y":0.306},{"s":"Y=0.1,m=10","x":5.89,"y":0.3},{"s":"Y=0.1,m=10","x":6.18,"y":0.3},{"s":"Y=0.1,m=10","x":6.56,"y":0.29},{"s":"Y=0.1,m=10","x":6.85,"y":0.296},{"s":"Y=0.1,m=10","x":7.3,"y":0.293},{"s":"Y=0.1,m=10","x":7.6,"y":0.3},{"s":"Y=0.1,m=10","x":8.0,"y":0.29},{"s":"Y=0.1,m=10","x":8.3,"y":0.302},{"s":"Y=0.1,m=10","x":8.85,"y":0.294},{"s":"Y=0.1,m=10","x":9.2,"y":0.303},{"s":"Y=0.1,m=10","x":9.55,"y":0.29},{"s":"Y=0.1,m=10","x":9.9,"y":0.296},{"s":"Y=0.1,m=10","x":10.2,"y":0.285},{"s":"Y=0.1,m=10","x":10.49,"y":0.28},{"s":"Y=0.1,m=10","x":10.82,"y":0.285},{"s":"Y=0.1,m=10","x":11.21,"y":0.29},{"s":"Y=0.1,m=10","x":11.54,"y":0.284},{"s":"Y=0.1,m=10","x":11.97,"y":0.282},{"s":"Y=0.1,m=10","x":12.26,"y":0.288},{"s":"Y=0.1,m=10","x":12.69,"y":0.28},{"s":"Y=0.1,m=10","x":12.93,"y":0.285},{"s":"Y=0.1,m=10","x":13.46,"y":0.284},{"s":"Y=0.1,m=10","x":13.7,"y":0.286},{"s":"Y=0.1,m=10","x":14.13,"y":0.29},{"s":"Y=0.1,m=10","x":14.44,"y":0.284},{"s":"Y=0.1,m=10","x":14.94,"y":0.285},{"s":"Y=0.1,m=10","x":15.18,"y":0.287},{"s":"Y=0.1,m=10","x":15.71,"y":0.283},{"s":"Y=0.1,m=10","x":15.92,"y":0.287},{"s":"Y=0.1,m=10","x":16.43,"y":0.287},{"s":"Y=0.1,m=10","x":16.67,"y":0.285},{"s":"Y=0.1,m=10","x":17.14,"y":0.28},{"s":"Y=0.1,m=10","x":17.43,"y":0.283},{"s":"Y=0.1,m=10","x":17.86,"y":0.28},{"s":"Y=0.1,m=10","x":18.15,"y":0.284},{"s":"Y=0.1,m=10","x":18.58,"y":0.28},{"s":"Y=0.1,m=10","x":18.87,"y":0.283},{"s":"Y=0.1,m=10","x":19.35,"y":0.28},{"s":"Y=0.1,m=10","x":19.65,"y":0.28},{"s":"Y=0.1,m=10","x":20.07,"y":0.28},{"s":"Y=0.1,m=10","x":20.4,"y":0.281},{"s":"Y=0.1,m=10","x":20.81,"y":0.279},{"s":"Y=0.1,m=10","x":21.17,"y":0.281},{"s":"Y=0.1,m=10","x":21.57,"y":0.28},{"s":"Y=0.1,m=10","x":21.93,"y":0.281},{"s":"Y=0.1,m=10","x":22.32,"y":0.28},{"s":"Y=0.1,m=10","x":22.7,"y":0.28},{"s":"Y=0.1,m=10","x":23.08,"y":0.281},{"s":"Y=0.1,m=10","x":23.49,"y":0.279},{"s":"Y=0.1,m=10","x":23.83,"y":0.281},{"s":"Y=0.1,m=10","x":24.26,"y":0.28},{"s":"Y=0.1,m=10","x":24.6,"y":0.281},{"s":"Y=0.1,m=10","x":25.05,"y":0.28},{"s":"Y=0.1,m=10","x":25.36,"y":0.279},{"s":"Y=0.1,m=10","x":25.81,"y":0.281},{"s":"Y=0.1,m=10","x":26.13,"y":0.28},{"s":"Y=0.1,m=10","x":26.6,"y":0.281},{"s":"Y=0.1,m=10","x":26.91,"y":0.279},{"s":"Y=0.1,m=10","x":27.41,"y":0.281},{"s":"Y=0.1,m=10","x":27.7,"y":0.279},{"s":"Y=0.1,m=10","x":28.45,"y":0.28},{"s":"Y=0.1,m=10","x":29.21,"y":0.28},
{"s":"Y=0.15,m=0.1","x":0.29,"y":0.275},{"s":"Y=0.15,m=0.1","x":0.48,"y":0.207},{"s":"Y=0.15,m=0.1","x":0.67,"y":0.3},{"s":"Y=0.15,m=0.1","x":3.73,"y":0.341},{"s":"Y=0.15,m=0.1","x":3.9,"y":0.305},{"s":"Y=0.15,m=0.1","x":6.95,"y":0.3},{"s":"Y=0.15,m=0.1","x":7.46,"y":0.333},{"s":"Y=0.15,m=0.1","x":10.33,"y":0.3},{"s":"Y=0.15,m=0.1","x":11.01,"y":0.334},{"s":"Y=0.15,m=0.1","x":13.84,"y":0.305},{"s":"Y=0.15,m=0.1","x":14.54,"y":0.334},{"s":"Y=0.15,m=0.1","x":17.38,"y":0.3},{"s":"Y=0.15,m=0.1","x":17.74,"y":0.305},{"s":"Y=0.15,m=0.1","x":17.93,"y":0.334},{"s":"Y=0.15,m=0.1","x":21.15,"y":0.334},{"s":"Y=0.15,m=0.1","x":24.01,"y":0.334},{"s":"Y=0.15,m=0.1","x":26.94,"y":0.316},{"s":"Y=0.15,m=0.1","x":29.69,"y":0.316},
{"s":"Y=0.15,m=1","x":0.59,"y":0.207},{"s":"Y=0.15,m=1","x":3.11,"y":0.277},{"s":"Y=0.15,m=1","x":5.75,"y":0.266},{"s":"Y=0.15,m=1","x":8.62,"y":0.262},{"s":"Y=0.15,m=1","x":11.28,"y":0.26},{"s":"Y=0.15,m=1","x":13.98,"y":0.258},{"s":"Y=0.15,m=1","x":16.68,"y":0.262},{"s":"Y=0.15,m=1","x":19.4,"y":0.266},{"s":"Y=0.15,m=1","x":22.1,"y":0.268},{"s":"Y=0.15,m=1","x":24.79,"y":0.268},{"s":"Y=0.15,m=1","x":27.46,"y":0.242},
{"s":"Y=0.15,m=10","x":0.05,"y":0.244},{"s":"Y=0.15,m=10","x":0.48,"y":0.175},{"s":"Y=0.15,m=10","x":0.89,"y":0.142},{"s":"Y=0.15,m=10","x":1.37,"y":0.149},{"s":"Y=0.15,m=10","x":1.96,"y":0.177},{"s":"Y=0.15,m=10","x":2.57,"y":0.19},{"s":"Y=0.15,m=10","x":3.23,"y":0.195},{"s":"Y=0.15,m=10","x":3.9,"y":0.199},{"s":"Y=0.15,m=10","x":4.58,"y":0.204},{"s":"Y=0.15,m=10","x":5.27,"y":0.204},{"s":"Y=0.15,m=10","x":5.97,"y":0.204},{"s":"Y=0.15,m=10","x":6.67,"y":0.201},{"s":"Y=0.15,m=10","x":7.38,"y":0.196},{"s":"Y=0.15,m=10","x":8.11,"y":0.194},{"s":"Y=0.15,m=10","x":8.81,"y":0.194},{"s":"Y=0.15,m=10","x":9.55,"y":0.195},{"s":"Y=0.15,m=10","x":10.32,"y":0.195},{"s":"Y=0.15,m=10","x":11.08,"y":0.195},{"s":"Y=0.15,m=10","x":11.85,"y":0.195},{"s":"Y=0.15,m=10","x":12.61,"y":0.195},{"s":"Y=0.15,m=10","x":13.38,"y":0.195},{"s":"Y=0.15,m=10","x":14.15,"y":0.195},{"s":"Y=0.15,m=10","x":14.91,"y":0.195},{"s":"Y=0.15,m=10","x":15.7,"y":0.195},{"s":"Y=0.15,m=10","x":16.48,"y":0.195},{"s":"Y=0.15,m=10","x":17.27,"y":0.195},{"s":"Y=0.15,m=10","x":18.07,"y":0.195},{"s":"Y=0.15,m=10","x":18.87,"y":0.195},{"s":"Y=0.15,m=10","x":19.65,"y":0.195},{"s":"Y=0.15,m=10","x":20.47,"y":0.195},{"s":"Y=0.15,m=10","x":21.24,"y":0.195},{"s":"Y=0.15,m=10","x":22.03,"y":0.195},{"s":"Y=0.15,m=10","x":22.82,"y":0.195},{"s":"Y=0.15,m=10","x":23.62,"y":0.195},{"s":"Y=0.15,m=10","x":24.4,"y":0.195},{"s":"Y=0.15,m=10","x":25.19,"y":0.195},{"s":"Y=0.15,m=10","x":25.96,"y":0.195},{"s":"Y=0.15,m=10","x":26.73,"y":0.195},{"s":"Y=0.15,m=10","x":27.51,"y":0.195},{"s":"Y=0.15,m=10","x":28.28,"y":0.195},{"s":"Y=0.15,m=10","x":29.03,"y":0.195},{"s":"Y=0.15,m=10","x":29.79,"y":0.195}
]},
"layer": [
{
"mark": {"type": "circle", "size": 113, "opacity": 1},
"encoding": {
"x": {"field": "x", "type": "quantitative", "scale": {"domain": [-0.2, 30], "nice": false, "zero": false},
 "axis": {"orient": "bottom", "values": [0,5,10,15,20,25,30], "tickSize": -10, "labelPadding": 25, "labelFontSize": 20, "labelFlush": false, "labelOverlap": false,
  "title": "z", "titleFontSize": 25, "titleX": 519.5, "titleY": 63.7, "titleAlign": "center", "titleBaseline": "alphabetic", "titleAngle": 0}},
"y": {"field": "y", "type": "quantitative", "scale": {"type": "log", "domain": [0.02, 50], "nice": false},
 "axis": {"orient": "left", "values": [0.02,0.03,0.04,0.05,0.06,0.07,0.08,0.09,0.1,0.2,0.3,0.4,0.5,0.6,0.7,0.8,0.9,1,2,3,4,5,6,7,8,9,10,20,30,40,50],
  "tickSize": {"condition": {"test": "datum.value == 0.1 || datum.value == 1 || datum.value == 10", "value": -10}, "value": -5},
  "labelExpr": "datum.value == 0.1 ? '10\u2002' : ((datum.value == 1 || datum.value == 10) ? '10' : '')",
  "labelPadding": 33, "labelFontSize": 20, "labelOffset": 5, "labelOverlap": false, "labelFlush": false, "labelBaseline": "middle",
  "title": "V", "titleFontSize": 31, "titleX": -71.7, "titleY": 314.2, "titleAngle": -90, "titleAlign": "center", "titleBaseline": "alphabetic"}},
"color": {"field": "s", "type": "nominal",
 "scale": {"domain": ["Y=0,m=0.1","Y=0,m=1","Y=0,m=10","Y=0.1,m=0.1","Y=0.1,m=1","Y=0.1,m=10","Y=0.15,m=0.1","Y=0.15,m=1","Y=0.15,m=10"],
  "range": ["#C03AC0","#68BDBD","#3B2AA3","#000000","#E1530F","#FAF53A","#67A833","#F3C62F","#A6A6A6"]},
 "legend": {"orient": "none", "legendX": 475, "legendY": 37, "title": null, "padding": 0, "symbolSize": 1, "symbolOpacity": 0, "symbolStrokeWidth": 0,
  "labelFont": "Liberation Sans", "labelFontSize": 17.6, "labelFontWeight": "bold", "labelOffset": -13, "labelLimit": 400, "clipHeight": 21, "rowPadding": 0.7,
  "encode": {
   "labels": {"update": {"fill": {"scale": "color", "field": "value"}, "dy": {"value": 1.6}}},
   "entries": {"update": {"fill": {"signal": "datum.index === 5 ? '#A6A6A6' : 'transparent'"}, "width": {"value": 137}}}
  }}}
}
},
{
"mark": {"type": "circle", "size": 113, "opacity": 0},
"encoding": {
"x": {"field": "x", "type": "quantitative", "axis": {"orient": "top", "values": [0,5,10,15,20,25,30], "tickSize": -10, "labels": false, "title": null}},
"y": {"field": "y", "type": "quantitative", "axis": {"orient": "right", "values": [0.02,0.03,0.04,0.05,0.06,0.07,0.08,0.09,0.1,0.2,0.3,0.4,0.5,0.6,0.7,0.8,0.9,1,2,3,4,5,6,7,8,9,10,20,30,40,50],
  "tickSize": {"condition": {"test": "datum.value == 0.1 || datum.value == 1 || datum.value == 10", "value": -10}, "value": -5}, "labels": false, "title": null}}
}
},
{
"mark": {"type": "circle", "size": 113, "opacity": 0},
"encoding": {
"x": {"field": "x", "type": "quantitative", "axis": {"orient": "bottom", "domain": false, "ticks": false, "labels": false,
  "title": "b", "titleFontSize": 18, "titleX": 530.5, "titleY": 68.7, "titleAlign": "center", "titleBaseline": "alphabetic", "titleAngle": 0}},
"y": {"field": "y", "type": "quantitative", "axis": {"orient": "left", "domain": false, "ticks": false, "values": [0.1, 1, 10],
  "labelExpr": "datum.value == 0.1 ? '-1' : (datum.value == 1 ? '0' : '1')", "labelAlign": "right", "labelPadding": 12, "labelOffset": -5, "labelFontSize": 14, "labelBaseline": "middle", "labelOverlap": false, "labelFlush": false,
  "title": "e", "titleFontSize": 21, "titleX": -66.7, "titleY": 303.4, "titleAngle": -90, "titleAlign": "center", "titleBaseline": "alphabetic"}}
}
}
],
"resolve": {"axis": {"x": "independent", "y": "independent"}}
}
